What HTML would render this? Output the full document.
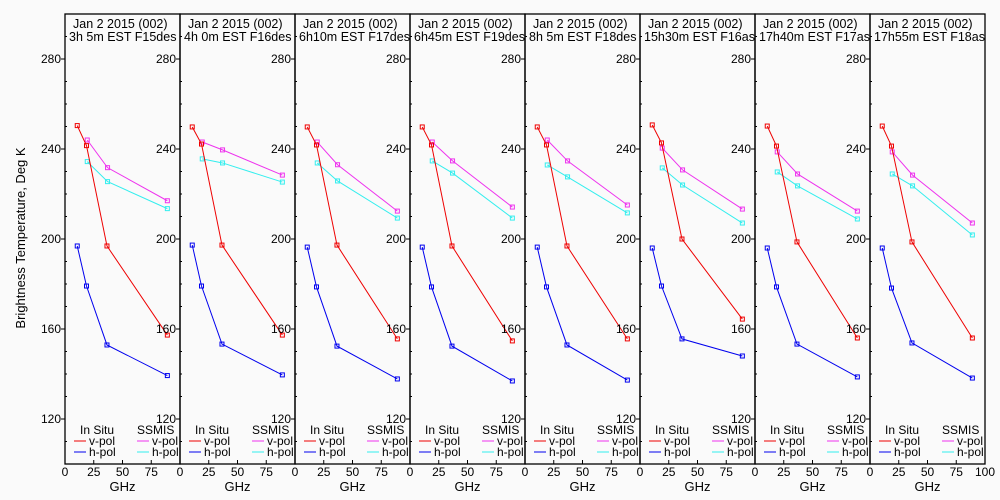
<!DOCTYPE html>
<html><head><meta charset="utf-8"><style>
html,body{margin:0;padding:0;background:#fafafa;}
svg{display:block;font-family:"Liberation Sans",sans-serif;}
</style></head><body>
<svg id="chart" width="1000" height="500" xmlns="http://www.w3.org/2000/svg">
<rect width="1000" height="500" fill="#fafafa"/>
<text x="25" y="238" transform="rotate(-90 25 238)" text-anchor="middle" font-size="13">Brightness Temperature, Deg K</text>
</svg>
<script>
const titles2 = ["3h 5m  EST F15des","4h 0m  EST F16des","6h10m  EST F17des","6h45m  EST F19des","8h 5m  EST F18des","15h30m  EST F16asc","17h40m  EST F17asc","17h55m  EST F18asc"];
const insituFreq = [10.65, 18.7, 36.5, 89];
const ssmisFreq = [19.35, 37, 89];
const redV = [[250.4,241.5,196.9,157.3],[249.8,242.2,197.3,157.3],[249.8,241.8,197.3,155.6],[249.8,241.8,196.9,154.7],[249.8,241.8,196.9,155.6],[250.7,242.7,200,164.4],[250.2,241.3,198.7,156],[250.2,241.3,198.7,156]];
const blueH = [[196.9,179.1,152.9,139.3],[197.3,179.1,153.3,139.6],[196.4,178.7,152.4,137.8],[196.4,178.7,152.4,136.9],[196.4,178.7,152.9,137.3],[196,179.1,155.6,148],[196,178.7,153.3,138.7],[196,178.2,153.8,138.2]];
const magV = [[244,231.7,217],[243.1,239.6,228.4],[243.1,233,212.4],[243.1,234.7,214.2],[244,234.7,215.1],[240.4,230.7,213.3],[238.7,228.9,212.4],[238.7,228.4,207.1]];
const cyanH = [[234.4,225.5,213.5],[235.6,233.8,225.3],[233.8,225.8,209.3],[234.7,229.3,209.3],[232.9,227.6,211.6],[231.6,224,207.1],[229.8,223.6,208.9],[228.9,223.6,201.8]];
const yTicks = [120,160,200,240,280];
const xTicks = [0,25,50,75,100];

const NS="http://www.w3.org/2000/svg";
const svg=document.getElementById('chart');
const PL=65, PW=115, PT=14, PB=464;
function xs(i,f){return PL+PW*i+f/100*PW;}
function ys(k){return PT+(300-k)*(PB-PT)/200;}
function mk(tag,attrs,parent){const e=document.createElementNS(NS,tag);for(const k in attrs)e.setAttribute(k,attrs[k]);(parent||svg).appendChild(e);return e;}

for(let i=0;i<8;i++){
  const g=mk('g',{});
  
  
  const x0=PL+PW*i;
  const frame=mk('rect',{x:x0,y:PT,width:PW,height:PB-PT,fill:'none',stroke:'#000','stroke-width':1.3},g);
  
  
  for(let k=100;k<=300;k+=10){
    const y=ys(k);
    if(k%40===0&&k>100&&k<300){
      mk('line',{x1:x0-4,x2:x0,y1:y,y2:y,stroke:'#000'},g);
    } else {
      mk('line',{x1:x0,x2:x0+2,y1:y,y2:y,stroke:'#000'},g);
    }
  }
  yTicks.forEach(v=>{
    const t=mk('text',{x:x0-4,y:ys(v)+4,'text-anchor':'end','font-size':12},g);
    t.textContent=v;
    
    
  });
  xTicks.forEach(v=>{
    const x=xs(i,v);
    mk('line',{x1:x,x2:x,y1:PB,y2:PB-4,stroke:'#000'},g);
    if(v<100||i===7){
      const t=mk('text',{x:x,y:PB+12,'text-anchor':'middle','font-size':12},g);
      t.textContent=v;
      
      
    }
  });
  const gx=mk('text',{x:x0+PW/2,y:491,'text-anchor':'middle','font-size':13},g);
  gx.textContent='GHz';
  
  
  const cp=mk('clipPath',{id:'cp'+i},g);
  mk('rect',{x:x0,y:0,width:PW,height:60},cp);
  const tg=mk('g',{'clip-path':'url(#cp'+i+')'},g);
  const t1=mk('text',{x:x0+8,y:28,'font-size':12.5},tg);
  t1.textContent='Jan 2 2015 (002)';
  
  
  const t2=mk('text',{x:x0+4,y:41,'font-size':12.5},tg);
  t2.textContent=titles2[i];
  
  
  function series(freq,vals,color,name){
    const pts=vals.map((v,j)=>xs(i,freq[j])+','+ys(v)).join(' ');
    const pl=mk('polyline',{points:pts,fill:'none',stroke:color,'stroke-width':1},g);
    
    
    vals.forEach((v,j)=>{
      const r=mk('rect',{x:xs(i,freq[j])-2,y:ys(v)-2,width:4,height:4,fill:'none',stroke:color,'stroke-width':1},g);
      
      
    });
  }
  series(ssmisFreq,cyanH[i],'#33eeee','ssmis-h-pol');
  series(ssmisFreq,magV[i],'#ee33ee','ssmis-v-pol');
  series(insituFreq,blueH[i],'#0000ee','insitu-h-pol');
  series(insituFreq,redV[i],'#ee0000','insitu-v-pol');
  const lg=mk('g',{},g);
  
  
  const h1=mk('text',{x:x0+15,y:434,'font-size':12},lg);h1.textContent='In Situ';
  const h2=mk('text',{x:x0+72,y:434,'font-size':12},lg);h2.textContent='SSMIS';
  const ent=[[x0+9,441,'#ee0000','v-pol'],[x0+9,452,'#0000ee','h-pol'],[x0+72,441,'#ee33ee','v-pol'],[x0+72,452,'#33eeee','h-pol']];
  ent.forEach(e=>{
    const le=mk('g',{},lg);
    
    
    mk('line',{x1:e[0],x2:e[0]+12,y1:e[1],y2:e[1],stroke:e[2]},le);
    const t=mk('text',{x:e[0]+15,y:e[1]+4,'font-size':12},le);t.textContent=e[3];
  });
}
</script>
</body></html>
